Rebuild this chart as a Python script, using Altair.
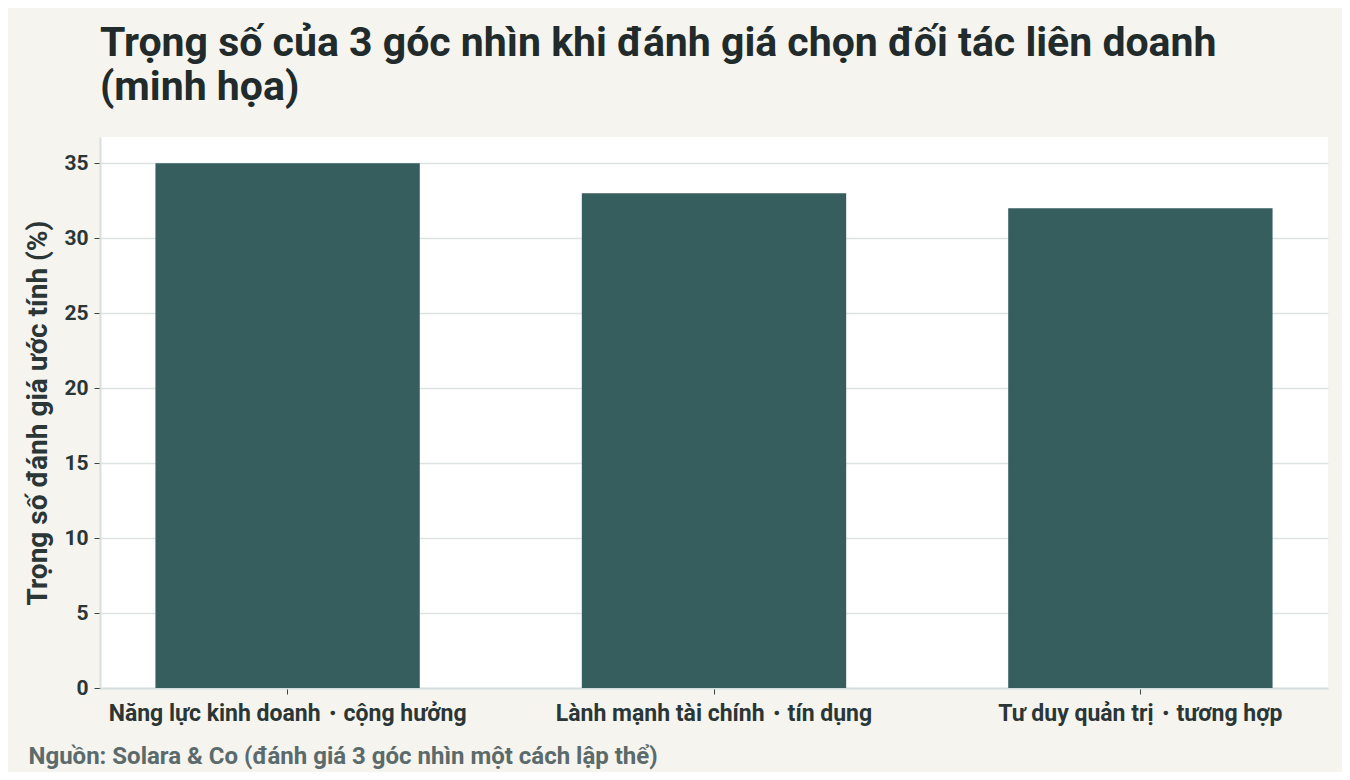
import altair as alt
import pandas as pd

categories = [
    "Năng lực kinh doanh・cộng hưởng",
    "Lành mạnh tài chính・tín dụng",
    "Tư duy quản trị・tương hợp",
]
weights = [35, 33, 32]
y_ticks = [0, 5, 10, 15, 20, 25, 30, 35]

title_lines = ["Trọng số của 3 góc nhìn khi đánh giá chọn đối tác liên doanh", "(minh họa)"]
y_title = "Trọng số đánh giá ước tính (%)"
source_text = "Nguồn: Solara & Co (đánh giá 3 góc nhìn một cách lập thể)"

df = pd.DataFrame({"cat": categories, "w": weights})

FONT = "Roboto"
TEXT = "#2b3636"

chart = (
    alt.Chart(df)
    .mark_bar(color="#375e5f")
    .encode(
        x=alt.X(
            "cat:N",
            sort=categories,
            scale=alt.Scale(paddingInner=0.38, paddingOuter=0.13),
            axis=alt.Axis(
                title=source_text,
                titleAnchor="start",
                titleAlign="left",
                titleBaseline="alphabetic",
                titleX=-72,
                titleY=75,
                titleFontSize=24,
                titleFontWeight="bold",
                titleColor="#5b6a6a",
                titleFont=FONT,
                labelAngle=0,
                labelFontSize=23,
                labelFontWeight="bold",
                labelColor=TEXT,
                labelFont=FONT,
                labelPadding=8,
                labelLimit=0,
                tickColor="#3a4545",
                tickSize=6,
                domainColor="#d8dfdf",
                domainWidth=2,
                grid=False,
            ),
        ),
        y=alt.Y(
            "w:Q",
            scale=alt.Scale(domain=[0, 36.75], nice=False),
            axis=alt.Axis(
                title=y_title,
                values=y_ticks,
                titleFontSize=28,
                titleFontWeight="bold",
                titleColor=TEXT,
                titleFont=FONT,
                titleBaseline="middle",
                titleX=-62,
                labelFontSize=21,
                labelFontWeight="bold",
                labelColor=TEXT,
                labelFont=FONT,
                labelPadding=6,
                tickColor="#3a4545",
                tickSize=6,
                domainColor="#d8dfdf",
                domainWidth=2,
                gridColor="#dde3e3",
                gridWidth=1.5,
            ),
        ),
    )
    .properties(
        width=1228,
        height=551,
        background="#f5f4ef",
        padding={"left": 92, "top": 129, "right": 14, "bottom": 84},
        autosize=alt.AutoSizeParams(type="none"),
        title=alt.TitleParams(
            text=title_lines,
            anchor="start",
            frame="group",
            fontSize=41,
            fontWeight="bold",
            color="#222b2b",
            font=FONT,
            lineHeight=44,
            offset=28,
        ),
    )
    .configure_view(fill="#ffffff", stroke=None)
)

chart.save("out.html", embed_options={"renderer": "svg", "actions": False})
